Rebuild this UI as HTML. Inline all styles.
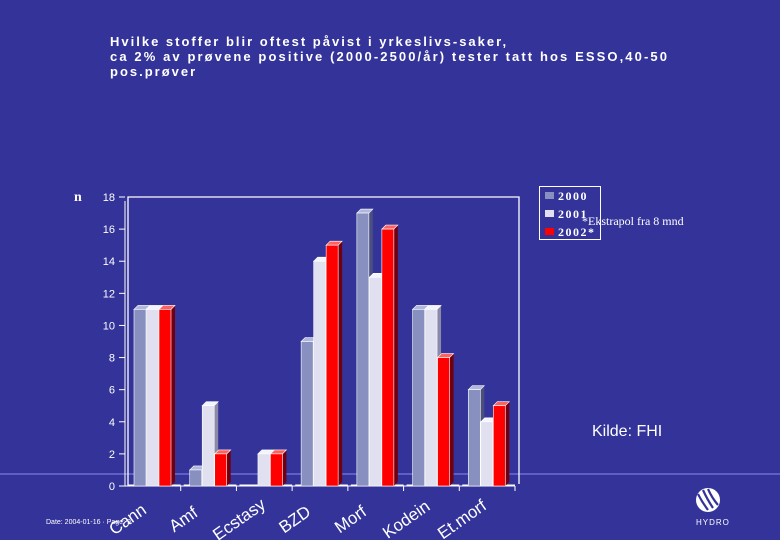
<!DOCTYPE html>
<html><head><meta charset="utf-8"><style>
body{margin:0;background:#333399;}
svg{display:block;font-family:"Liberation Sans",sans-serif;}
</style></head><body>
<svg width="780" height="540" viewBox="0 0 780 540">
<rect width="780" height="540" fill="#333399"/>
<g fill="#fff" font-weight="bold" font-size="13" letter-spacing="2">
<text x="110" y="46">Hvilke stoffer blir oftest påvist i yrkeslivs-saker,</text>
<text x="110" y="61" letter-spacing="2.1">ca 2% av prøvene positive  (2000-2500/år) tester tatt hos ESSO,40-50</text>
<text x="110" y="76">pos.prøver</text>
</g>
<line x1="0" y1="474" x2="780" y2="474" stroke="#8888ee" stroke-width="1"/>
<g id="plot"></g>
<text x="74" y="201" fill="#fff" font-family="Liberation Serif,serif" font-weight="bold" font-size="14">n</text>
<g>
<rect x="539.5" y="186.5" width="61" height="53" fill="none" stroke="#fff"/>
<rect x="545" y="192" width="9" height="7" fill="#8890c0"/>
<text x="558" y="200" fill="#fff" font-family="Liberation Serif,serif" font-weight="bold" font-size="12" letter-spacing="1.5">2000</text>
<rect x="545" y="210" width="9" height="7" fill="#e0e0f0"/>
<text x="558" y="218" fill="#fff" font-family="Liberation Serif,serif" font-weight="bold" font-size="12" letter-spacing="1.5">2001</text>
<rect x="545" y="228" width="9" height="7" fill="#ff0000"/>
<text x="558" y="236" fill="#fff" font-family="Liberation Serif,serif" font-weight="bold" font-size="12" letter-spacing="1.5">2002*</text>
</g>
<text x="582" y="225" fill="#fff" font-family="Liberation Serif,serif" font-size="12">*Ekstrapol fra 8 mnd</text>
<text x="592" y="436" fill="#fff" font-size="16">Kilde: FHI</text>
<text x="46" y="524" fill="#fff" font-size="7">Date: 2004-01-16 · Page: 9</text>
<g>
<circle cx="708" cy="500" r="12" fill="#fff"/>
<path d="M698 494 q4 8 10 16 M703 490 q4 9 10 18 M708 489 q4 9 10 16" stroke="#333399" stroke-width="2.2" fill="none"/>
<text x="696" y="525" fill="#fff" font-size="8" letter-spacing="1">HYDRO</text>
</g>
</svg>
<script>
const categories=["Cann","Amf","Ecstasy","BZD","Morf","Kodein","Et.morf"];
const series2000=[11,1,0,9,17,11,6];
const series2001=[11,5,2,14,13,11,4];
const series2002=[11,2,2,15,16,8,5];
const yTicks=[0,2,4,6,8,10,12,14,16,18];
const NS="http://www.w3.org/2000/svg";
const g=document.getElementById('plot');
const x0=125,x1=515,y0=486,y1=197,ymax=18;
const y=v=>y0-(v/ymax)*(y0-y1);
const gw=(x1-x0)/categories.length;
const xg=i=>x0+i*gw;
function mk(t,a){const e=document.createElementNS(NS,t);for(const k in a)e.setAttribute(k,a[k]);g.appendChild(e);return e;}
let f=mk('path',{d:`M${x0+3} ${y0} L${x0+3} ${y1} L${x1+4} ${y1} L${x1+4} ${y0-2}`,stroke:'#fff',fill:'none','stroke-width':1.3});


let ax=mk('line',{x1:x0,y1:y1+4,x2:x0,y2:y0,stroke:'#fff'});


let bx=mk('line',{x1:x0,y1:y0,x2:x1,y2:y0,stroke:'#fff'});


yTicks.forEach(t=>{
 let l=mk('line',{x1:x0-6,y1:y(t),x2:x0,y2:y(t),stroke:'#fff'});
 
 
 let tx=mk('text',{x:x0-10,y:y(t)+4,fill:'#fff','font-size':11,'text-anchor':'end'});
 tx.textContent=t;
 
 
});
const cols=[['#8890c0','#4a4f80','#b0b6dd'],['#e0e0f0','#8a8aa8','#f4f4ff'],['#ff0000','#700010','#ff6060']];
const sers=[series2000,series2001,series2002];
const bw=12,d=4;
categories.forEach((c,i)=>{
 let t=mk('line',{x1:xg(i+1),y1:y0,x2:xg(i+1),y2:y0+5,stroke:'#fff'});
 
 
 let fl=mk('line',{x1:xg(i)+3,y1:y0-1,x2:xg(i)+gw,y2:y0-1,stroke:'#fff'});
 
 
 sers.forEach((s,k)=>{
  const v=s[i];if(v<=0)return;
  const bx=xg(i)+9+k*12.5,top=y(v);
  let side=mk('path',{d:`M${bx+bw} ${top} L${bx+bw+d} ${top-d} L${bx+bw+d} ${y0-d} L${bx+bw} ${y0}Z`,fill:cols[k][1]});
  
  
  let tp=mk('path',{d:`M${bx} ${top} L${bx+d} ${top-d} L${bx+bw+d} ${top-d} L${bx+bw} ${top}Z`,fill:cols[k][2],stroke:'#fff','stroke-width':0.6});
  
  
  let r=mk('rect',{x:bx,y:top,width:bw,height:y0-top,fill:cols[k][0],stroke:'#fff','stroke-width':0.6});
  
  
 });
 const lx=xg(i)+gw/2-22, ly=y0+38;
 let lb=mk('text',{x:lx,y:ly,fill:'#fff','font-size':17,'text-anchor':'middle',transform:`rotate(-35 ${lx} ${ly})`});
 lb.textContent=c;
 
 
});
</script>
</body></html>
